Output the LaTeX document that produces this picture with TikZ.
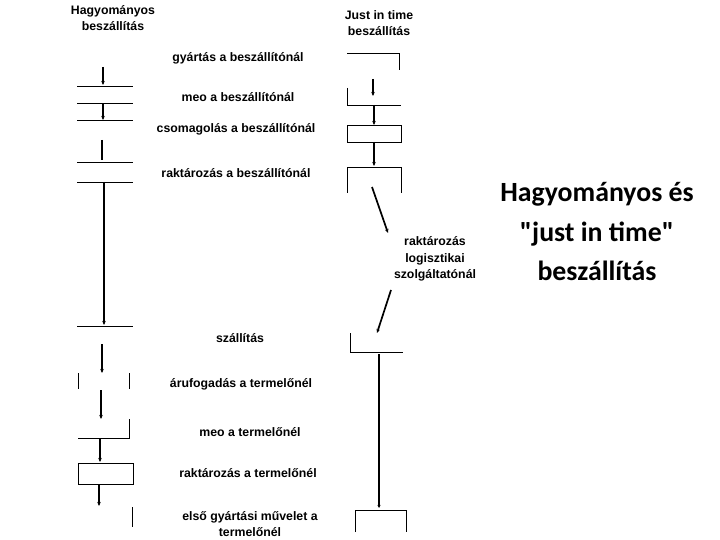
\documentclass[tikz,border=0pt]{standalone}
\usepackage{fontspec}
\setmainfont{Liberation Sans}
\newfontfamily\calib{Carlito}
\usetikzlibrary{positioning, arrows.meta}

\begin{document}
\begin{tikzpicture}[x=1pt, y=-1pt,
  font=\fontsize{12.3}{16.5}\selectfont\bfseries,
  lbl/.style={align=center, inner sep=0pt},
  ln/.style={line width=0.9pt},
  a/.style={-{Stealth[length=4pt, width=3.5pt]}, line width=1.7pt},
  ath/.style={-{Stealth[length=3pt, width=3pt]}, line width=2.8pt}
]
\useasboundingbox (0,0) rectangle (720,540);
% titles
\node[lbl] (tl) at (113,18) {Hagyományos\\beszállítás};
\node[lbl] (tr) at (379,23) {Just in time\\beszállítás};
% left column: stages
\foreach \y in {86,103,120,162,182,326} \draw[ln] (77,\y) -- (133,\y);
\draw[ln] (78,373) -- (78,389) (129,373) -- (129,389);
\draw[ln] (129,419) -- (129,438) -- (78,438);
\draw[ln] (78,463) rectangle (133,484);
\draw[ln] (132,507) -- (132,527);
\draw[a] (103,67) -- (103,85);
\draw[a] (103,104) -- (103,120);
\draw[line width=2.2pt] (102,140) -- (102,160);
\draw[a] (104,182) -- (104,325);
\draw[a] (102,344) -- (102,373);
\draw[a] (101,390) -- (101,419);
\draw[a] (100,438) -- (100,462);
\draw[a] (99,484) -- (99,506);
% left labels
\node[lbl] (l1) at (238,58) {gyártás a beszállítónál};
\node[lbl] (l2) at (238,97) {meo a beszállítónál};
\node[lbl] (l3) at (236,129) {csomagolás a beszállítónál};
\node[lbl] (l4) at (236,173) {raktározás a beszállítónál};
\node[lbl] (l5) at (240,338) {szállítás};
\node[lbl] (l6) at (241,384) {árufogadás a termelőnél};
\node[lbl] (l7) at (250,432) {meo a termelőnél};
\node[lbl] (l8) at (248,473) {raktározás a termelőnél};
\node[lbl] (l9) at (250,524) {első gyártási művelet a\\termelőnél};
% right column: stages
\draw[ln] (347,53) -- (399,53) -- (399,70);
\draw[ln] (347,88) -- (347,105) -- (401,105);
\draw[ln] (347,125) rectangle (401,142);
\draw[ln] (347,193) -- (347,167) -- (401,167) -- (401,193);
\draw[ln] (350,333) -- (350,352) -- (403,352);
\draw[ln] (355,532) -- (355,510) -- (406,510) -- (406,532);
\draw[a] (373,79) -- (373,96);
\draw[a] (374,105) -- (374,125);
\draw[a] (374,142) -- (374,166);
\draw[a] (372,187) -- (388,233);
\draw[a] (391,290) -- (377,333);
\draw[ath] (379,354) -- (379,508);
\node[lbl] (lg) at (435,259) {raktározás\\logisztikai\\szolgáltatónál};
% big title
\node[lbl, font=\calib\bfseries\fontsize{27.8}{39.5}\selectfont] (big) at (597,232)
  {Hagyományos és\\"just in time"\\beszállítás};
\end{tikzpicture}
\end{document}
